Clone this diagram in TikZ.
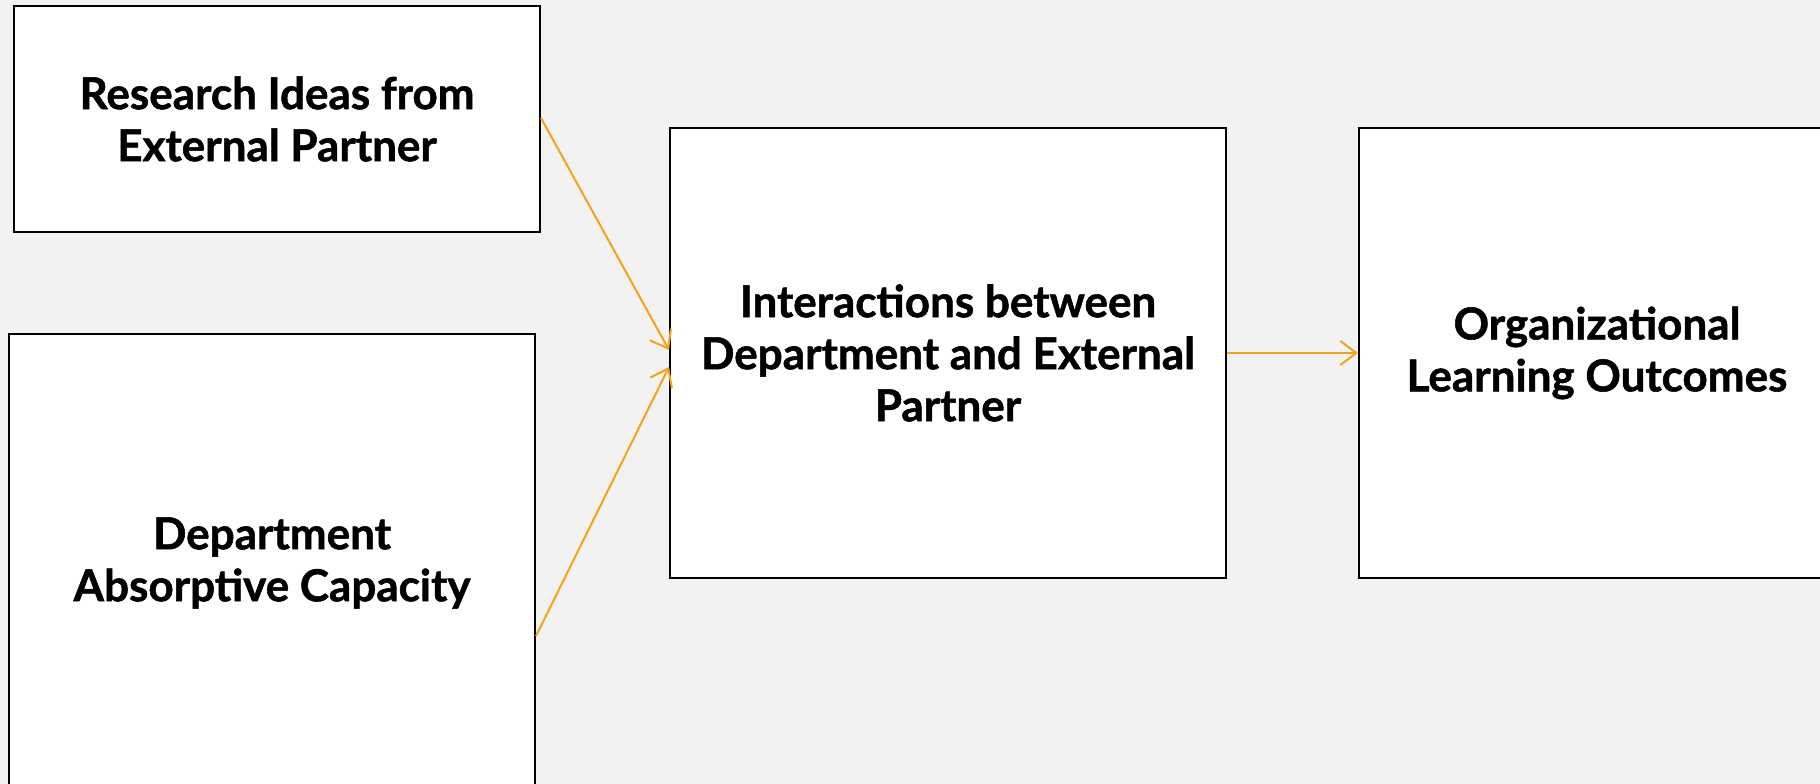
\documentclass[tikz,border=0pt]{standalone}
\usepackage{fontspec}
\setmainfont{Lato}[BoldFeatures={FakeBold=1.2}]
\usetikzlibrary{arrows.meta}
\definecolor{paper}{HTML}{F2F2F2}
\definecolor{flowcol}{HTML}{F5A21C}
\tikzset{
	factor/.style={draw=black, line width=2pt, fill=white, rectangle, align=center,
		font=\fontsize{44}{52}\selectfont\bfseries, inner sep=0pt},
	flow/.style={draw=flowcol, line width=2pt, -{Straight Barb[length=16pt,width=24pt,line width=2pt]}}
}
\begin{document}
\begin{tikzpicture}[x=1pt,y=1pt]
		\fill[paper] (0,0) rectangle (1820,-784);
		\useasboundingbox (0,0) rectangle (1820,-784);
		\node[factor, minimum width=526pt, minimum height=226pt] (ideas) at (277,-119) {Research Ideas from\\External Partner};
		\node[factor, minimum width=526pt, minimum height=458pt] (capacity) at (272,-563) {Department\\Absorptive Capacity};
		\node[factor, minimum width=556pt, minimum height=450pt] (interactions) at (948,-353) {Interactions between\\Department and External\\Partner};
		\node[factor, minimum width=476pt, minimum height=450pt] (outcomes) at (1597,-353) {Organizational\\Learning Outcomes};
		\draw[flow] ([yshift=1pt]ideas.east) -- ([yshift=3pt]interactions.west);
		\draw[flow] ([yshift=-73pt]capacity.east) -- ([yshift=-14pt]interactions.west);
		\draw[flow] (interactions.east) -- (outcomes.west);
		\end{tikzpicture}
\end{document}
